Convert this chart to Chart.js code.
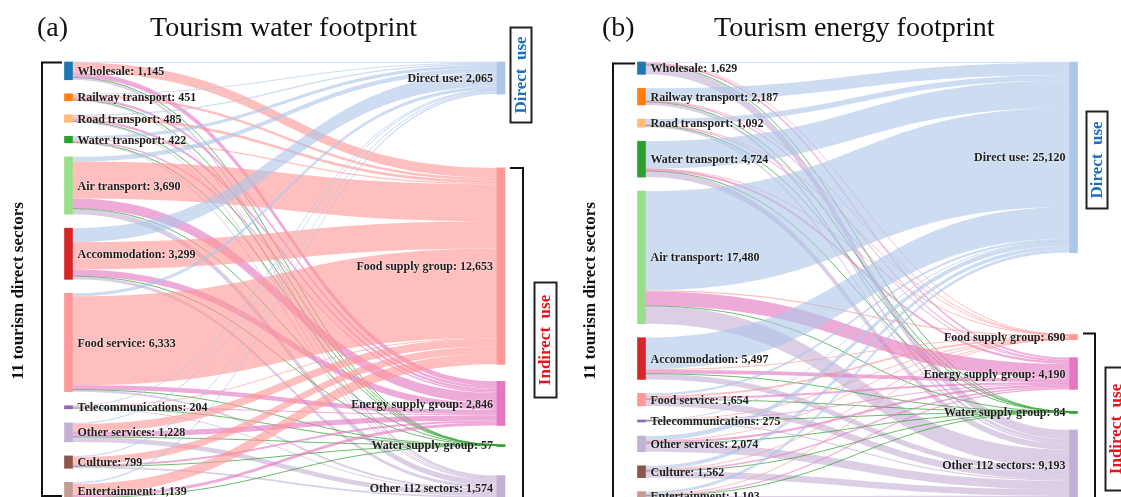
<!DOCTYPE html>
<html>
<head>
<meta charset="utf-8">
<title>Tourism footprints</title>
<script src="https://cdn.jsdelivr.net/npm/chart.js@4.4.1/dist/chart.umd.min.js"></script>
<style>
  html, body { margin: 0; width: 1121px; height: 497px; overflow: hidden; background: #fff; }
  canvas { position: absolute; top: 0; }
  #water { left: 0; }
  #energy { left: 560px; }
</style>
</head>
<body>
<canvas id="water" width="560" height="520"></canvas>
<canvas id="energy" width="561" height="520"></canvas>
<script>
const sectors = ['Wholesale', 'Railway transport', 'Road transport', 'Water transport', 'Air transport',
  'Accommodation', 'Food service', 'Telecommunications', 'Other services', 'Culture', 'Entertainment'];
const uses = ['Direct use', 'Food supply group', 'Energy supply group', 'Water supply group', 'Other 112 sectors'];

// water footprint, one array per destination, ordered like sectors
const waterDirect = [40, 60, 80, 200, 300, 900, 200, 20, 80, 80, 105];
const waterFood = [624, 168, 172, 90, 2380, 1760, 5725, 72, 509, 465, 688];
const waterEnergy = [326, 160, 170, 100, 650, 430, 280, 70, 330, 130, 200];
const waterWater = [5, 3, 3, 2, 10, 9, 8, 2, 5, 4, 6];
const waterOther = [150, 60, 60, 30, 350, 200, 120, 40, 304, 120, 140];

// energy footprint
const energyDirect = [100, 1600, 750, 3600, 13080, 4160, 300, 30, 600, 500, 400];
const energyFood = [60, 20, 15, 30, 150, 100, 225, 10, 40, 20, 20];
const energyEnergy = [250, 180, 100, 300, 1900, 500, 250, 60, 300, 200, 150];
const energyWater = [5, 3, 2, 5, 23, 15, 10, 2, 8, 6, 5];
const energyOther = [1214, 384, 225, 789, 2327, 722, 869, 173, 1126, 836, 528];

const sectorColors = ['#1f77b4', '#ff7f0e', '#ffbb78', '#2ca02c', '#98df8a', '#d62728',
  '#ff9896', '#9467bd', '#c5b0d5', '#8c564b', '#c49c94'];
const useColors = ['#aec7e8', '#ff9896', '#e377c2', '#2ca02c', '#c5b0d5'];
const linkColors = ['rgba(174,199,232,0.62)', 'rgba(255,152,150,0.62)', 'rgba(227,119,194,0.62)',
  'rgba(44,160,44,0.7)', 'rgba(197,176,213,0.62)'];

const SERIF = '"Liberation Serif", "Times New Roman", serif';
const LEFT_PAD = 0.047;   // gap between sector nodes, share of column total

// stack nodes of both columns in value units
function layoutSankey(flows, rightPads) {
  const srcTotals = sectors.map((_, i) => flows.reduce((s, f) => s + f[i], 0));
  const dstTotals = flows.map(f => f.reduce((a, b) => a + b, 0));
  const total = srcTotals.reduce((a, b) => a + b, 0);
  const srcTop = [];
  let cur = 0;
  srcTotals.forEach(v => { srcTop.push(cur); cur += v + total * LEFT_PAD; });
  const dstTop = [];
  cur = 0;
  dstTotals.forEach((v, j) => { dstTop.push(cur); cur += v + total * (rightPads[j] || 0); });
  return { srcTotals, dstTotals, srcTop, dstTop, extent: total * (1 + LEFT_PAD * (sectors.length - 1)) };
}

function drawRotated(ctx, text, cx, cy, font, color) {
  ctx.save();
  ctx.translate(cx, cy);
  ctx.rotate(-Math.PI / 2);
  ctx.font = font;
  ctx.fillStyle = color;
  ctx.textAlign = 'center';
  ctx.textBaseline = 'middle';
  ctx.fillText(text, 0, 0);
  ctx.restore();
}

function makePanel(canvasId, flows, cfg) {
  const lay = layoutSankey(flows, cfg.rightPads);

  const nodes = [];
  const colors = [];
  sectors.forEach((_, i) => {
    nodes.push({ x: 0, y: [lay.srcTop[i], lay.srcTop[i] + lay.srcTotals[i]] });
    colors.push(sectorColors[i]);
  });
  uses.forEach((_, j) => {
    nodes.push({ x: 1, y: [lay.dstTop[j], lay.dstTop[j] + lay.dstTotals[j]] });
    colors.push(useColors[j]);
  });

  // ribbons between the two columns
  const links = {
    id: 'links',
    beforeDatasetsDraw(chart) {
      const { ctx, scales: { x, y } } = chart;
      const x0 = x.getPixelForValue(0) + 4;
      const x1 = x.getPixelForValue(1) - 4;
      const xm = (x0 + x1) / 2;
      const outOff = sectors.map(() => 0);
      const inOff = uses.map(() => 0);
      const ribbons = [];
      sectors.forEach((_, i) => {
        uses.forEach((_, j) => {
          const v = flows[j][i];
          const s = lay.srcTop[i] + outOff[i];
          const t = lay.dstTop[j] + inOff[j];
          outOff[i] += v;
          ribbons.push({ j, s, t, v });
        });
      });
      // incoming side is ordered by sector
      inOff.fill(0);
      sectors.forEach((_, i) => {
        uses.forEach((_, j) => {
          const r = ribbons[i * uses.length + j];
          r.t = lay.dstTop[j] + inOff[j];
          inOff[j] += r.v;
        });
      });
      ctx.save();
      ribbons.forEach(r => {
        if (r.v <= 0) return;
        const ya = y.getPixelForValue(r.s), yb = y.getPixelForValue(r.s + r.v);
        const yc = y.getPixelForValue(r.t), yd = y.getPixelForValue(r.t + r.v);
        if (yb - ya < 1.1) {
          ctx.strokeStyle = linkColors[r.j];
          ctx.lineWidth = 1;
          ctx.beginPath();
          const m0 = (ya + yb) / 2, m1 = (yc + yd) / 2;
          ctx.moveTo(x0, m0);
          ctx.bezierCurveTo(xm, m0, xm, m1, x1, m1);
          ctx.stroke();
          return;
        }
        ctx.fillStyle = linkColors[r.j];
        ctx.beginPath();
        ctx.moveTo(x0, ya);
        ctx.bezierCurveTo(xm, ya, xm, yc, x1, yc);
        ctx.lineTo(x1, yd);
        ctx.bezierCurveTo(xm, yd, xm, yb, x0, yb);
        ctx.closePath();
        ctx.fill();
      });
      ctx.restore();
    }
  };

  // node names with their totals
  const nodeLabels = {
    id: 'nodeLabels',
    afterDatasetsDraw(chart) {
      const { ctx, scales: { x, y } } = chart;
      ctx.save();
      ctx.font = 'bold 12px ' + SERIF;
      ctx.fillStyle = '#1e1e1e';
      ctx.textBaseline = 'middle';
      ctx.shadowColor = 'rgba(255,255,255,0.9)';
      ctx.shadowBlur = 2;
      ctx.textAlign = 'left';
      sectors.forEach((name, i) => {
        const cy = (y.getPixelForValue(lay.srcTop[i]) + y.getPixelForValue(lay.srcTop[i] + lay.srcTotals[i])) / 2;
        ctx.fillText(name + ': ' + lay.srcTotals[i].toLocaleString('en-US'), x.getPixelForValue(0) + 9, cy + 1);
      });
      ctx.textAlign = 'right';
      uses.forEach((name, j) => {
        const cy = (y.getPixelForValue(lay.dstTop[j]) + y.getPixelForValue(lay.dstTop[j] + lay.dstTotals[j])) / 2;
        ctx.fillText(name + ': ' + lay.dstTotals[j].toLocaleString('en-US'), x.getPixelForValue(1) - 8, cy + 1);
      });
      ctx.restore();
    }
  };

  // panel title, brackets and group boxes
  const decor = {
    id: 'decor',
    afterDraw(chart) {
      const ctx = chart.ctx;
      const d = cfg.decor;
      ctx.save();
      ctx.fillStyle = '#111';
      ctx.font = '28px ' + SERIF;
      ctx.textBaseline = 'alphabetic';
      ctx.textAlign = 'left';
      ctx.fillText(cfg.letter, d.letterX, 36);
      ctx.fillText(cfg.title, d.titleX, 36);

      ctx.strokeStyle = '#111';
      ctx.lineWidth = 2;
      ctx.beginPath();
      ctx.moveTo(d.bracketX + d.tick, d.bracketTop);
      ctx.lineTo(d.bracketX, d.bracketTop);
      ctx.lineTo(d.bracketX, d.bracketBottom);
      ctx.lineTo(d.bracketX + d.tick, d.bracketBottom);
      ctx.stroke();
      drawRotated(ctx, '11 tourism direct sectors', d.sectorsLabelX, 291, 'bold 17px ' + SERIF, '#111');

      ctx.beginPath();
      ctx.moveTo(d.indirectTick[0], d.indirectTop);
      ctx.lineTo(d.indirectTick[1], d.indirectTop);
      ctx.lineTo(d.indirectTick[1], 530);
      ctx.stroke();

      ctx.lineWidth = 2;
      ctx.strokeStyle = '#222';
      const db = d.directBox;
      ctx.strokeRect(db[0], db[1], db[2], db[3]);
      drawRotated(ctx, 'Direct  use', db[0] + db[2] / 2 + 0.5, db[1] + db[3] / 2, 'bold 17px ' + SERIF, '#1c6fbf');
      const ib = d.indirectBox;
      ctx.strokeRect(ib[0], ib[1], ib[2], ib[3]);
      drawRotated(ctx, 'Indirect  use', ib[0] + 11.5, ib[1] + ib[3] / 2, 'bold 17px ' + SERIF, '#e3141b');
      ctx.restore();
    }
  };

  return new Chart(document.getElementById(canvasId), {
    type: 'bar',
    data: {
      datasets: [{
        data: nodes,
        backgroundColor: colors,
        barThickness: 8,
        minBarLength: 2,
        borderWidth: 0,
        clip: false
      }]
    },
    options: {
      responsive: false,
      animation: false,
      events: [],
      layout: { padding: cfg.padding },
      plugins: {
        legend: { display: false },
        tooltip: { enabled: false }
      },
      scales: {
        x: { type: 'linear', min: 0, max: 1, offset: false, display: false },
        y: { type: 'linear', min: 0, max: lay.extent, reverse: true, display: false }
      }
    },
    plugins: [links, nodeLabels, decor]
  });
}

makePanel('water', [waterDirect, waterFood, waterEnergy, waterWater, waterOther], {
  letter: '(a)',
  title: 'Tourism water footprint',
  rightPads: [0.248, 0.057, 0.064, 0.101],
  padding: { left: 68.5, right: 59, top: 62, bottom: 20 },
  decor: {
    letterX: 37, titleX: 150,
    bracketX: 42, tick: 20, bracketTop: 62.5, bracketBottom: 496,
    sectorsLabelX: 19,
    indirectTick: [510, 523], indirectTop: 168,
    directBox: [510.5, 27.5, 21, 95],
    indirectBox: [534.5, 282.5, 22, 115]
  }
});

makePanel('energy', [energyDirect, energyFood, energyEnergy, energyWater, energyOther], {
  letter: '(b)',
  title: 'Tourism energy footprint',
  rightPads: [0.275, 0.060, 0.074, 0.060],
  padding: { left: 81.5, right: 47.5, top: 62, bottom: 20 },
  decor: {
    letterX: 42, titleX: 154,
    bracketX: 53, tick: 22, bracketTop: 63.5, bracketBottom: 540,
    sectorsLabelX: 31,
    indirectTick: [523, 535], indirectTop: 333.5,
    directBox: [526.5, 111.5, 21, 97],
    indirectBox: [545.5, 367.5, 22, 123]
  }
});
</script>
</body>
</html>
